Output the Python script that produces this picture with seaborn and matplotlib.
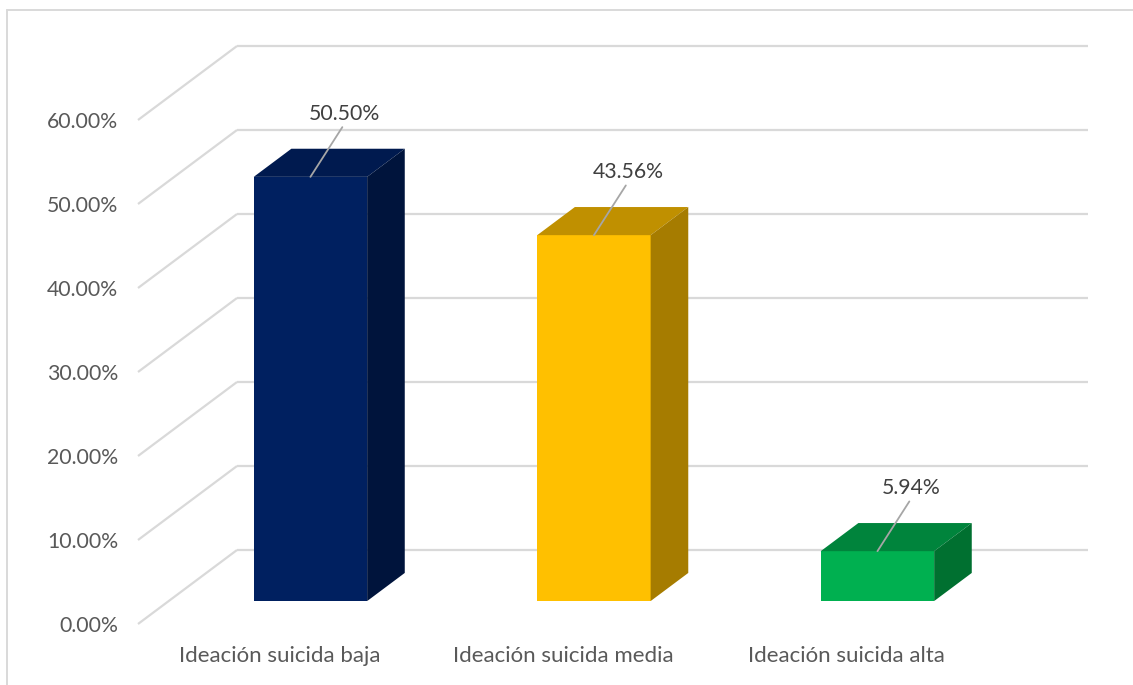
import numpy as np
import pandas as pd
import matplotlib
matplotlib.use("Agg")
import matplotlib.pyplot as plt
import seaborn as sns
from matplotlib.patches import Polygon
from matplotlib.lines import Line2D

# ---- data ----
categories = ["Ideación suicida baja", "Ideación suicida media", "Ideación suicida alta"]
values = [50.50, 43.56, 5.94]
value_labels = ["50.50%", "43.56%", "5.94%"]
y_ticks = [0, 10, 20, 30, 40, 50, 60]
y_tick_labels = ["0.00%", "10.00%", "20.00%", "30.00%", "40.00%", "50.00%", "60.00%"]

# ---- style ----
front_colors = ["#002060", "#FFC000", "#00B050"]
top_colors = ["#001A4F", "#C09000", "#00843C"]
side_colors = ["#00143C", "#A67C00", "#007030"]
grid_color = "#D9D9D9"
text_color = "#595959"
label_color = "#404040"
FAMILY = ["Lato", "DejaVu Sans"]

sns.set_theme(style="white")
plt.rcParams["font.family"] = FAMILY

W, H = 1133, 685
fig = plt.figure(figsize=(W / 100, H / 100), dpi=100)
renderer = fig.canvas.get_renderer()


def fit_size(text, target_px):
    t = fig.text(0, 0, text, fontsize=10)
    w = t.get_window_extent(renderer=renderer).width
    t.remove()
    return 10 * target_px / w


cat_size = fit_size("Ideación suicida baja", 201)
num_size = fit_size("60.00%", 71)

# plot area in pixels: front plane left=138, back right=1085, 0%=624, top=45
PX_PER_CAT = 283.5
PX_PER_PCT = 8.4
ax = fig.add_axes([138 / W, (H - 624) / H, 947 / W, 579 / H])

df = pd.DataFrame({"cat": categories, "val": values})
sns.barplot(data=df, x="cat", y="val", hue="cat", palette=front_colors,
            width=0.4, linewidth=0, saturation=1, legend=False, ax=ax, zorder=2)

ax.set_xlim(-0.5, -0.5 + 947 / PX_PER_CAT)
ax.set_ylim(0, 579 / PX_PER_PCT)

# oblique depth vector (full depth) in data units
DX = 99 / PX_PER_CAT
DY = 74 / PX_PER_PCT
D1, D2 = 0.31, 0.69

# walls gridlines
for v in y_ticks:
    ax.plot([-0.5 + DX, 2.5 + DX], [v + DY, v + DY], color=grid_color, lw=1.6,
            zorder=0.5, clip_on=False, solid_capstyle="butt")
    ax.plot([-0.5, -0.5 + DX], [v, v + DY], color=grid_color, lw=1.6,
            zorder=0.5, clip_on=False, solid_capstyle="butt")

# 3D bars
patches = sorted(ax.patches, key=lambda p: p.get_x())
bx, by = (D2 - D1) * DX, (D2 - D1) * DY
for p, tc, sc, lab in zip(patches, top_colors, side_colors, value_labels):
    x0 = p.get_x() + D1 * DX
    yb = D1 * DY
    w = p.get_width()
    h = p.get_height()
    p.set_x(x0)
    p.set_y(yb)
    yt = yb + h
    ax.add_patch(Polygon([(x0, yt), (x0 + w, yt), (x0 + w + bx, yt + by), (x0 + bx, yt + by)],
                         closed=True, facecolor=tc, edgecolor="none", zorder=2, clip_on=False))
    ax.add_patch(Polygon([(x0 + w, yb), (x0 + w + bx, yb + by), (x0 + w + bx, yt + by), (x0 + w, yt)],
                         closed=True, facecolor=sc, edgecolor="none", zorder=2, clip_on=False))
    ax.annotate(lab, xy=(x0 + w / 2, yt), xytext=(34, 63), textcoords="offset pixels",
                ha="center", va="center", fontsize=num_size, color=label_color,
                annotation_clip=False, zorder=3,
                arrowprops=dict(arrowstyle="-", color="#A6A6A6", lw=1.3,
                                shrinkA=0, shrinkB=0, relpos=(0.5, 0)))

ax.set_yticks(y_ticks, y_tick_labels)
ax.set_xticks(range(len(categories)), categories)
ax.tick_params(axis="y", length=0, pad=14.4, labelsize=num_size, labelcolor=text_color)
ax.tick_params(axis="x", length=0, pad=15.5, labelsize=cat_size, labelcolor=text_color)
ax.set_xlabel("")
ax.set_ylabel("")
ax.grid(False)
ax.set_facecolor("none")
sns.despine(ax=ax, left=True, bottom=True)

# chart-area border
fig.add_artist(Line2D([7 / W, 7 / W], [0, 1 - 9.5 / H], transform=fig.transFigure,
                      color=grid_color, lw=1.4))
fig.add_artist(Line2D([7 / W, 1], [1 - 9.5 / H, 1 - 9.5 / H], transform=fig.transFigure,
                      color=grid_color, lw=1.4))

fig.savefig("out.png", dpi=100)
